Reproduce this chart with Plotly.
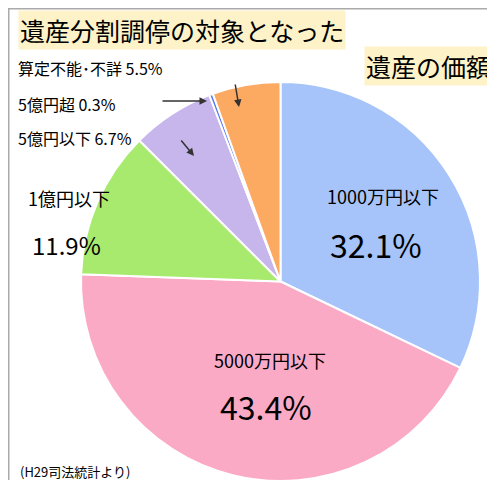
import plotly.graph_objects as go

labels = ["1000万円以下", "5000万円以下", "1億円以下", "5億円以下", "5億円超", "算定不能・不詳"]
values = [32.1, 43.4, 11.9, 6.7, 0.3, 5.5]
colors = ["#a6c4fa", "#fbaac6", "#a8ea6e", "#c6b6ec", "#5a78f0", "#fcaa62"]

W, H = 495, 480
def px(x): return x / W
def py(y): return 1 - y / H

fig = go.Figure(go.Pie(
    labels=labels, values=values, sort=False, direction="clockwise", rotation=0,
    marker=dict(colors=colors, line=dict(color="white", width=2)),
    textinfo="none", hoverinfo="label+percent",
    domain=dict(x=[px(73), px(472)], y=[py(473), py(74)]),
))

font = "Noto Sans CJK JP"
ann = []
def t(x, y, s, size, anchor="center", bg=None):
    ann.append(dict(x=px(x), y=py(y), xref="paper", yref="paper", text=s, showarrow=False,
                    xanchor=anchor, yanchor="middle", font=dict(family=font, size=size, color="black"),
                    bgcolor=bg))
t(10, 22, "遺産分割調停の対象となった", 25, "left", "#fdf2c8")
t(485, 58, "遺産の価額", 25, "right", "#fdf2c8")
t(8, 60, "算定不能･不詳 5.5%", 16, "left")
t(8, 96, "5億円超 0.3%", 16, "left")
t(8, 130, "5億円以下 6.7%", 16, "left")
t(18, 190, "1億円以下", 18, "left")
t(22, 236, "11.9%", 24, "left")
t(375, 188, "1000万円以下", 18)
t(368, 236, "32.1%", 32)
t(262, 352, "5000万円以下", 18)
t(258, 398, "43.4%", 32)
t(10, 463, "(H29司法統計より)", 13, "left")
for (x0, y0, x1, y1) in [(227, 75, 231, 99), (153, 93, 199, 93), (172, 131, 186, 148)]:
    ann.append(dict(x=px(x1), y=py(y1), ax=x0 - x1, ay=y0 - y1, xref="paper", yref="paper",
                    text="", showarrow=True, arrowhead=2,
                    arrowsize=1, arrowwidth=1.5, arrowcolor="#333"))

fig.update_layout(width=W, height=H, margin=dict(l=0, r=0, t=0, b=0), showlegend=False,
                  paper_bgcolor="white", annotations=ann,
                  shapes=[dict(type="rect", xref="paper", yref="paper", x0=0, y0=0, x1=1, y1=1,
                               line=dict(color="#aaaaaa", width=3))])
fig.write_html("out.html")
